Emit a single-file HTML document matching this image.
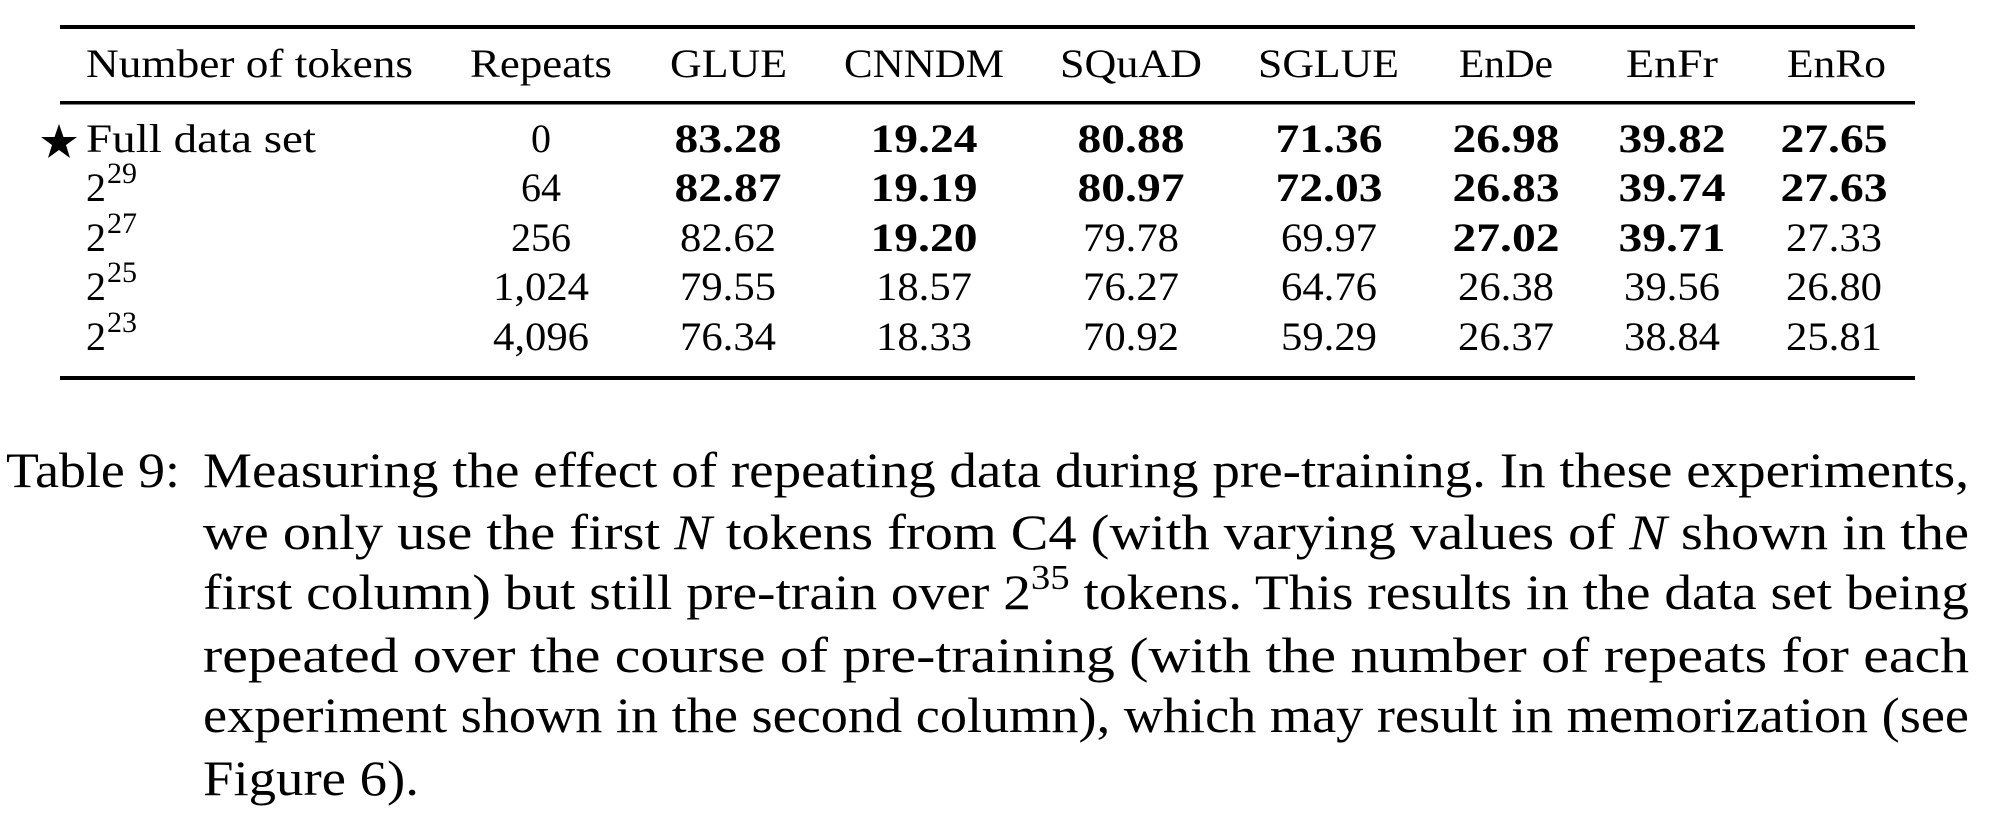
<!DOCTYPE html>
<html><head><meta charset="utf-8"><style>
html,body{margin:0;padding:0;background:#fff;}
svg{display:block;}
text{font-family:"Liberation Serif",serif;fill:#000;}
.h{font-size:40px;}
.b{font-size:40px;font-weight:bold;}
.r{font-size:40px;}
.c{font-size:50px;}
</style></head><body>
<svg width="1992" height="814" viewBox="0 0 1992 814" xmlns="http://www.w3.org/2000/svg">
<rect x="60" y="25" width="1855" height="4"/>
<rect x="60" y="101" width="1855" height="3.5"/>
<rect x="60" y="376" width="1855" height="4"/>
<g class="h">
<text class="h" x="86" y="77" textLength="327" lengthAdjust="spacingAndGlyphs">Number of tokens</text>
<text class="h" x="470" y="77" textLength="142" lengthAdjust="spacingAndGlyphs">Repeats</text>
<text class="h" x="670" y="77" textLength="117" lengthAdjust="spacingAndGlyphs">GLUE</text>
<text class="h" x="844" y="77" textLength="160" lengthAdjust="spacingAndGlyphs">CNNDM</text>
<text class="h" x="1060" y="77" textLength="142" lengthAdjust="spacingAndGlyphs">SQuAD</text>
<text class="h" x="1258" y="77" textLength="141" lengthAdjust="spacingAndGlyphs">SGLUE</text>
<text class="h" x="1459" y="77" textLength="94" lengthAdjust="spacingAndGlyphs">EnDe</text>
<text class="h" x="1626" y="77" textLength="92" lengthAdjust="spacingAndGlyphs">EnFr</text>
<text class="h" x="1787" y="77" textLength="99" lengthAdjust="spacingAndGlyphs">EnRo</text>
</g>
<polygon points="59,124 63.5,137 77,137 66,145 70,158 59,150 48,158 52,145 41,137 54.5,137"/>
<text class="r" x="86" y="152" textLength="230" lengthAdjust="spacingAndGlyphs">Full data set</text>
<text class="r" x="86" y="201">2</text><text x="107" y="183" style="font-size:30px">29</text>
<text class="r" x="86" y="251">2</text><text x="107" y="233" style="font-size:30px">27</text>
<text class="r" x="86" y="300">2</text><text x="107" y="282" style="font-size:30px">25</text>
<text class="r" x="86" y="350">2</text><text x="107" y="332" style="font-size:30px">23</text>
<g text-anchor="middle">
<text class="r" x="541" y="152">0</text>
<text class="r" x="541" y="201">64</text>
<text class="r" x="541" y="251">256</text>
<text class="r" x="541" y="300" textLength="96" lengthAdjust="spacingAndGlyphs">1,024</text>
<text class="r" x="541" y="350" textLength="96" lengthAdjust="spacingAndGlyphs">4,096</text>

<text class="b" x="728" y="152" textLength="107" lengthAdjust="spacingAndGlyphs">83.28</text>
<text class="b" x="728" y="201" textLength="107" lengthAdjust="spacingAndGlyphs">82.87</text>
<text class="r" x="728" y="251" textLength="96" lengthAdjust="spacingAndGlyphs">82.62</text>
<text class="r" x="728" y="300" textLength="96" lengthAdjust="spacingAndGlyphs">79.55</text>
<text class="r" x="728" y="350" textLength="96" lengthAdjust="spacingAndGlyphs">76.34</text>

<text class="b" x="924" y="152" textLength="107" lengthAdjust="spacingAndGlyphs">19.24</text>
<text class="b" x="924" y="201" textLength="107" lengthAdjust="spacingAndGlyphs">19.19</text>
<text class="b" x="924" y="251" textLength="107" lengthAdjust="spacingAndGlyphs">19.20</text>
<text class="r" x="924" y="300" textLength="96" lengthAdjust="spacingAndGlyphs">18.57</text>
<text class="r" x="924" y="350" textLength="96" lengthAdjust="spacingAndGlyphs">18.33</text>

<text class="b" x="1131" y="152" textLength="107" lengthAdjust="spacingAndGlyphs">80.88</text>
<text class="b" x="1131" y="201" textLength="107" lengthAdjust="spacingAndGlyphs">80.97</text>
<text class="r" x="1131" y="251" textLength="96" lengthAdjust="spacingAndGlyphs">79.78</text>
<text class="r" x="1131" y="300" textLength="96" lengthAdjust="spacingAndGlyphs">76.27</text>
<text class="r" x="1131" y="350" textLength="96" lengthAdjust="spacingAndGlyphs">70.92</text>

<text class="b" x="1329" y="152" textLength="107" lengthAdjust="spacingAndGlyphs">71.36</text>
<text class="b" x="1329" y="201" textLength="107" lengthAdjust="spacingAndGlyphs">72.03</text>
<text class="r" x="1329" y="251" textLength="96" lengthAdjust="spacingAndGlyphs">69.97</text>
<text class="r" x="1329" y="300" textLength="96" lengthAdjust="spacingAndGlyphs">64.76</text>
<text class="r" x="1329" y="350" textLength="96" lengthAdjust="spacingAndGlyphs">59.29</text>

<text class="b" x="1506" y="152" textLength="107" lengthAdjust="spacingAndGlyphs">26.98</text>
<text class="b" x="1506" y="201" textLength="107" lengthAdjust="spacingAndGlyphs">26.83</text>
<text class="b" x="1506" y="251" textLength="107" lengthAdjust="spacingAndGlyphs">27.02</text>
<text class="r" x="1506" y="300" textLength="96" lengthAdjust="spacingAndGlyphs">26.38</text>
<text class="r" x="1506" y="350" textLength="96" lengthAdjust="spacingAndGlyphs">26.37</text>

<text class="b" x="1672" y="152" textLength="107" lengthAdjust="spacingAndGlyphs">39.82</text>
<text class="b" x="1672" y="201" textLength="107" lengthAdjust="spacingAndGlyphs">39.74</text>
<text class="b" x="1672" y="251" textLength="107" lengthAdjust="spacingAndGlyphs">39.71</text>
<text class="r" x="1672" y="300" textLength="96" lengthAdjust="spacingAndGlyphs">39.56</text>
<text class="r" x="1672" y="350" textLength="96" lengthAdjust="spacingAndGlyphs">38.84</text>

<text class="b" x="1834" y="152" textLength="107" lengthAdjust="spacingAndGlyphs">27.65</text>
<text class="b" x="1834" y="201" textLength="107" lengthAdjust="spacingAndGlyphs">27.63</text>
<text class="r" x="1834" y="251" textLength="96" lengthAdjust="spacingAndGlyphs">27.33</text>
<text class="r" x="1834" y="300" textLength="96" lengthAdjust="spacingAndGlyphs">26.80</text>
<text class="r" x="1834" y="350" textLength="96" lengthAdjust="spacingAndGlyphs">25.81</text>
</g>

<text class="c" x="6" y="487" textLength="174" lengthAdjust="spacingAndGlyphs">Table 9:</text>
<text class="c" x="203" y="487" textLength="1766" lengthAdjust="spacingAndGlyphs">Measuring the effect of repeating data during pre-training. In these experiments,</text>
<text class="c" x="203" y="549" textLength="1766" lengthAdjust="spacingAndGlyphs">we only use the first <tspan font-style="italic">N</tspan> tokens from C4 (with varying values of <tspan font-style="italic">N</tspan> shown in the</text>
<text class="c" x="203" y="609" textLength="1766" lengthAdjust="spacingAndGlyphs">first column) but still pre-train over 2<tspan dy="-20" style="font-size:35px">35</tspan><tspan dy="20"> tokens. This results in the data set being</tspan></text>
<text class="c" x="203" y="672" textLength="1766" lengthAdjust="spacingAndGlyphs">repeated over the course of pre-training (with the number of repeats for each</text>
<text class="c" x="203" y="732" textLength="1766" lengthAdjust="spacingAndGlyphs">experiment shown in the second column), which may result in memorization (see</text>
<text class="c" x="203" y="795" textLength="216" lengthAdjust="spacingAndGlyphs">Figure 6).</text>
</svg>
</body></html>
